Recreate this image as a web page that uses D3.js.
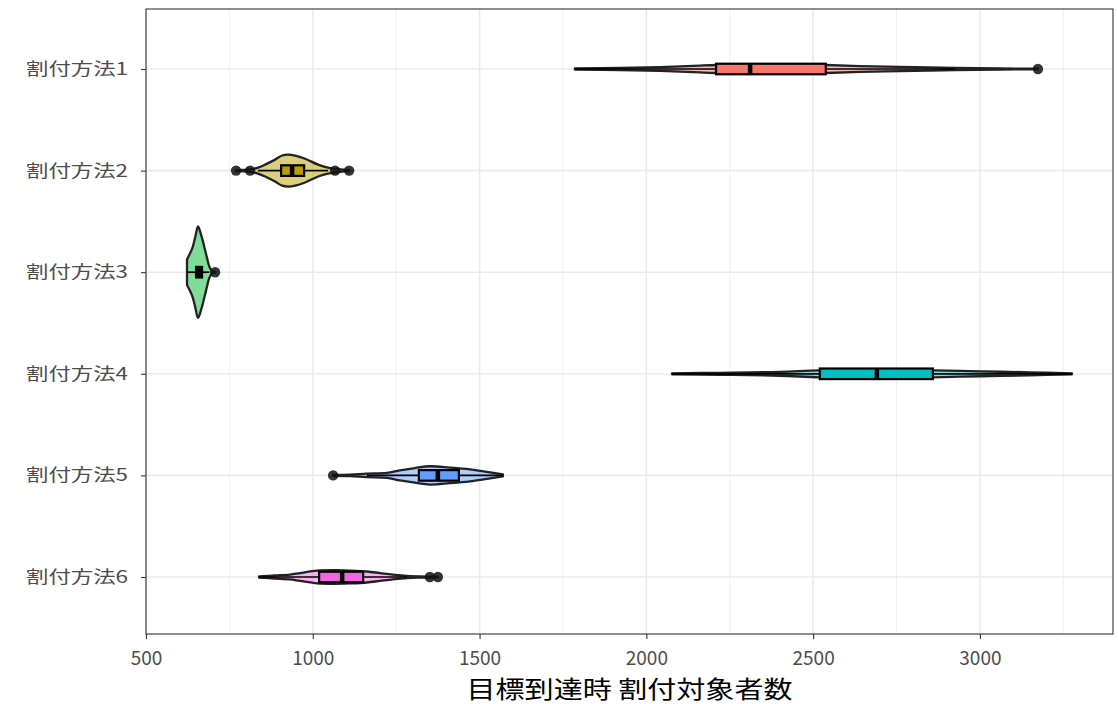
<!DOCTYPE html>
<html>
<head>
<meta charset="utf-8">
<script src="https://cdn.jsdelivr.net/npm/d3@7"></script>
<style>
  body { margin: 0; background: #fff; }
  svg { display: block; }
</style>
</head>
<body>
<svg id="chart" width="1118" height="704"></svg>
<script>
// ---- data ----
const categories = ["割付方法1", "割付方法2", "割付方法3", "割付方法4", "割付方法5", "割付方法6"];
const colors = ["#F8766D", "#B79F00", "#00BA38", "#00BFC4", "#619CFF", "#F564E3"];
const xTicks = [500, 1000, 1500, 2000, 2500, 3000];
const xMinorTicks = [750, 1250, 1750, 2250, 2750, 3250];
const xTitle = "目標到達時 割付対象者数";

// violin density profiles: [value, relative density]
const density1 = [[1786,.011],[1921,.026],[2041,.043],[2161,.076],[2209,.087],[2311,.098],[2460,.098],[2538,.087],[2640,.065],[2760,.048],[2925,.022],[3060,.011],[3174,.007]];
const density2 = [[770,.011],[812,.026],[836,.065],[857,.13],[887,.24],[908,.33],[926,.35],[947,.33],[977,.26],[1016,.13],[1046,.065],[1082,.026],[1109,.011]];
const density3 = [[623,.28],[630,.38],[640,.55],[648,.78],[656,1],[666,.8],[676,.52],[684,.28],[690,.12],[698,.03],[707,.011]];
const density4 = [[2077,.011],[2221,.022],[2401,.043],[2520,.076],[2691,.087],[2859,.076],[3000,.054],[3150,.033],[3276,.011]];
const density5 = [[1061,.011],[1112,.017],[1162,.039],[1222,.054],[1261,.11],[1306,.16],[1351,.2],[1411,.17],[1471,.13],[1522,.076],[1570,.022]];
const density6 = [[839,.011],[887,.033],[932,.054],[962,.087],[1013,.14],[1067,.15],[1112,.14],[1162,.12],[1201,.087],[1240,.054],[1282,.026],[1321,.015],[1375,.009]];
const densities = [density1, density2, density3, density4, density5, density6];

// box statistics: [whiskerLow, q1, median, q3, whiskerHigh]
const boxStats = [
  [1786, 2209, 2311, 2538, 2925],
  [836, 905, 938, 974, 1046],
  [623, 650, 659, 668, 690],
  [2077, 2520, 2691, 2859, 3276],
  [1162, 1318, 1375, 1438, 1570],
  [839, 1019, 1088, 1151, 1282]
];
const outliers = [[3174], [770, 812, 1067, 1109], [707], [], [1061], [1351, 1375]];

// ---- layout ----
const panel = { left: 146, top: 9, right: 1113, bottom: 634 };
const svg = d3.select("#chart");

const x = d3.scaleLinear().domain([500, 3399]).range([panel.left, panel.right]);
const y = d3.scalePoint().domain(categories).range([69, 577]);
const step = y.step();
const wScale = d3.scaleLinear().domain([0, 1]).range([0, step * 0.45]);
const boxHalf = step * 0.052;

// background
svg.append("rect").attr("x", panel.left).attr("y", panel.top)
  .attr("width", panel.right - panel.left).attr("height", panel.bottom - panel.top)
  .attr("fill", "#fff");

// grid
const grid = svg.append("g");
grid.selectAll(".minor").data(xMinorTicks).join("line")
  .attr("x1", d => x(d)).attr("x2", d => x(d))
  .attr("y1", panel.top).attr("y2", panel.bottom)
  .attr("stroke", "#EBEBEB").attr("stroke-width", 0.8);
grid.selectAll(".majorx").data(xTicks).join("line")
  .attr("x1", d => x(d)).attr("x2", d => x(d))
  .attr("y1", panel.top).attr("y2", panel.bottom)
  .attr("stroke", "#EBEBEB").attr("stroke-width", 1.6);
grid.selectAll(".majory").data(categories).join("line")
  .attr("x1", panel.left).attr("x2", panel.right)
  .attr("y1", d => y(d)).attr("y2", d => y(d))
  .attr("stroke", "#EBEBEB").attr("stroke-width", 1.6);

// violins
const marks = svg.append("g");
categories.forEach((cat, i) => {
  const cy = y(cat);
  const area = d3.area()
    .x(d => x(d[0]))
    .y0(d => cy - wScale(d[1]))
    .y1(d => cy + wScale(d[1]))
    .curve(d3.curveCatmullRom.alpha(0.5));
  marks.append("path").datum(densities[i])
    .attr("d", area)
    .attr("fill", colors[i]).attr("fill-opacity", 0.5)
    .attr("stroke", "#222").attr("stroke-width", 2.3)
    .attr("stroke-linejoin", "round");
});

// boxplots
categories.forEach((cat, i) => {
  const cy = y(cat);
  const [lo, q1, med, q3, hi] = boxStats[i];
  const g = marks.append("g");
  g.append("line").attr("x1", x(lo)).attr("x2", x(q1)).attr("y1", cy).attr("y2", cy)
    .attr("stroke", "#000").attr("stroke-width", 1.7);
  g.append("line").attr("x1", x(q3)).attr("x2", x(hi)).attr("y1", cy).attr("y2", cy)
    .attr("stroke", "#000").attr("stroke-width", 1.7);
  g.append("rect").attr("x", x(q1)).attr("y", cy - boxHalf)
    .attr("width", x(q3) - x(q1)).attr("height", boxHalf * 2)
    .attr("fill", colors[i]).attr("stroke", "#000").attr("stroke-width", 2.2);
  g.append("line").attr("x1", x(med)).attr("x2", x(med))
    .attr("y1", cy - boxHalf).attr("y2", cy + boxHalf)
    .attr("stroke", "#000").attr("stroke-width", 4.5);
  g.selectAll("circle").data(outliers[i]).join("circle")
    .attr("cx", d => x(d)).attr("cy", cy).attr("r", 5.2)
    .attr("fill", "#111").attr("fill-opacity", 0.85);
});

// panel border
svg.append("rect").attr("x", panel.left).attr("y", panel.top)
  .attr("width", panel.right - panel.left).attr("height", panel.bottom - panel.top)
  .attr("fill", "none").attr("stroke", "#333").attr("stroke-width", 1.1);

// x axis
const xAxis = svg.append("g").attr("transform", `translate(0,${panel.bottom})`)
  .call(d3.axisBottom(x).tickValues(xTicks).tickSize(5).tickPadding(13).tickFormat(d3.format("d")));
xAxis.select(".domain").remove();
xAxis.selectAll(".tick line").attr("stroke", "#333").attr("stroke-width", 1.1);
xAxis.selectAll(".tick text").attr("fill", "#4D4D4D")
  .style("font-family", "'Liberation Sans Narrow', 'Noto Sans CJK JP', sans-serif").style("font-size", "19px");

// y axis
const yAxis = svg.append("g").attr("transform", `translate(${panel.left},0)`)
  .call(d3.axisLeft(y).tickSize(5).tickPadding(6));
yAxis.select(".domain").remove();
yAxis.selectAll(".tick line").attr("stroke", "#333").attr("stroke-width", 1.1);
yAxis.selectAll(".tick text").attr("fill", "#4D4D4D")
  .style("font-family", "'Noto Sans CJK JP', sans-serif").style("font-size", "17px")
  .attr("x", -18).attr("textLength", 102).attr("lengthAdjust", "spacingAndGlyphs");

// x title
svg.append("text").attr("x", (panel.left + panel.right) / 2).attr("y", 698)
  .attr("text-anchor", "middle")
  .style("font-family", "'Noto Sans CJK JP', sans-serif").style("font-size", "24px")
  .attr("fill", "#000")
  .attr("textLength", 326).attr("lengthAdjust", "spacingAndGlyphs")
  .text(xTitle);
</script>
</body>
</html>
